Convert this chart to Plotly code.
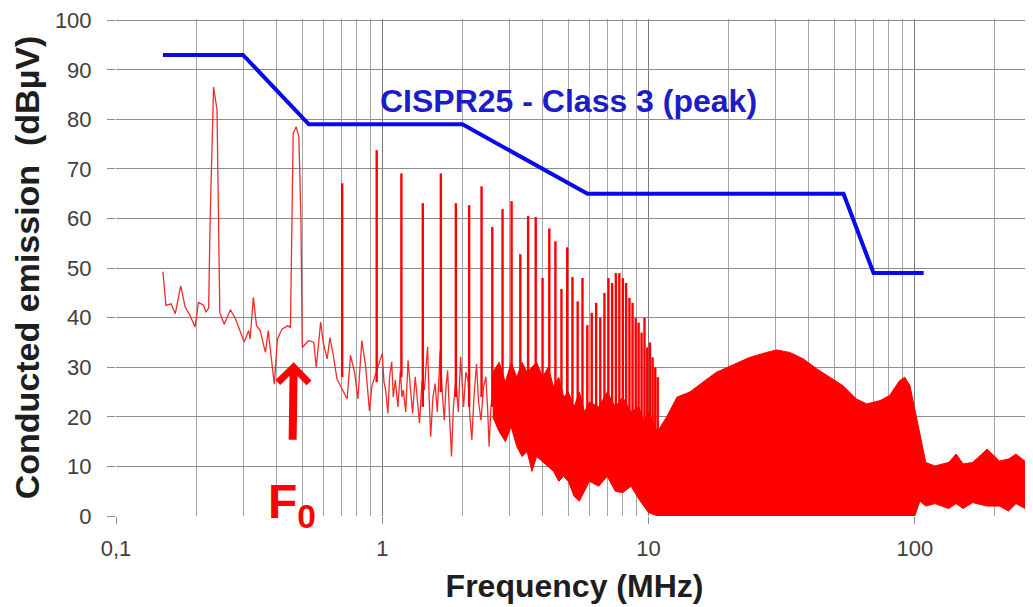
import numpy as np
import plotly.graph_objects as go

# CISPR25 class 3 (peak) limit line
limit_f = [0.15, 0.30, 0.53, 2.0, 5.9, 54, 70, 108]
limit_db = [93, 93, 79, 79, 65, 65, 49, 49]

# measured spectrum, low frequency part (MHz, dBuV)
low_f = [0.150, 0.154, 0.161, 0.167, 0.175, 0.182, 0.190, 0.198, 0.204, 0.213,
         0.218, 0.2228, 0.2258, 0.2325, 0.2395, 0.2432, 0.2454, 0.255, 0.269, 0.281,
         0.293, 0.303, 0.315, 0.319, 0.328, 0.337, 0.348, 0.364, 0.373, 0.393,
         0.404, 0.420, 0.442, 0.452, 0.4629, 0.4752, 0.4861, 0.4950, 0.5006, 0.529,
         0.553, 0.565, 0.587, 0.600, 0.621, 0.636, 0.655, 0.676, 0.738, 0.760,
         0.787, 0.810, 0.838, 0.866, 0.895, 0.915,
         1.0, 1.015, 1.03, 1.05, 1.065, 1.085, 1.10, 1.12, 1.145, 1.17,
         1.185, 1.2, 1.225, 1.25, 1.275, 1.3, 1.33, 1.355, 1.38, 1.41,
         1.44, 1.46, 1.48, 1.50, 1.52, 1.55, 1.58, 1.61, 1.63, 1.65,
         1.68, 1.71, 1.735, 1.76, 1.79, 1.82, 1.85, 1.89, 1.93, 1.97,
         2.0, 2.02, 2.06, 2.1, 2.135, 2.17, 2.21, 2.26, 2.3, 2.35,
         2.4, 2.45, 2.49, 2.52, 2.56, 2.6]
low_db = [49.3, 42.5, 42.8, 40.8, 46.4, 42.1, 40.4, 38.1, 43.1, 42.5,
          41.1, 42.0, 60.0, 86.5, 82.0, 60.0, 41.0, 38.7, 41.6, 39.8,
          37.4, 35.1, 37.4, 35.7, 44.1, 38.4, 37.4, 33.0, 37.4, 26.6,
          35.7, 37.7, 38.4, 38.0, 77.2, 78.5, 76.5, 60.0, 34.0, 35.4,
          35.0, 30.0, 39.1, 35.0, 31.7, 36.0, 32.4, 27.6, 23.6, 32.4,
          29.0, 23.6, 35.4, 30.3, 21.2, 26.3,
          32.8, 27.0, 25.4, 20.7, 28.0, 31.1, 24.0, 27.4, 22.0, 29.4,
          24.0, 25.4, 21.0, 31.4, 26.0, 20.7, 28.1, 23.0, 18.7, 27.0,
          25.4, 30.0, 34.1, 24.0, 16.0, 24.0, 26.7, 21.0, 28.0, 33.4,
          25.0, 19.3, 26.0, 29.4, 20.0, 12.0, 22.0, 27.4, 21.0, 32.1,
          26.0, 22.0, 29.0, 27.4, 20.0, 15.3, 24.0, 30.7, 23.0, 19.3,
          26.0, 28.1, 21.0, 14.0, 22.0, 25.0]

# harmonic peaks
harm_f = [0.707, 0.953, 1.18, 1.42, 1.66, 1.89, 2.12, 2.36, 2.59, 2.83,
          3.06, 3.30, 3.53, 3.77, 4.00, 4.24, 4.47, 4.71, 4.95, 5.18,
          5.42, 5.65, 5.89, 6.12, 6.36, 6.59, 6.83, 7.07, 7.30, 7.54,
          7.77, 8.01, 8.24, 8.48, 8.71, 8.95, 9.18, 9.42, 9.66, 9.89,
          10.13, 10.36, 10.6, 10.83]
harm_peak = [67.1, 73.8, 69.1, 63.1, 69.1, 63.1, 62.7, 66.5, 58.3, 61.9,
             63.5, 52.8, 60.5, 60.3, 48.0, 58.0, 55.4, 45.8, 54.2, 48.2,
             43.3, 48.0, 38.5, 41.0, 43.0, 40.0, 45.0, 48.0, 47.0, 49.0,
             49.0, 48.0, 47.0, 44.0, 43.0, 40.0, 39.0, 37.0, 40.0, 34.0,
             35.0, 32.0, 30.0, 28.0]
harm_base = [28, 27, 28, 22, 25, 24, 22, 24, 22, 22,
             20, 20, 18, 18, 16, 16, 14, 14, 12, 12,
             12, 10, 10, 10, 10, 10, 10, 10, 8, 8,
             8, 8, 8, 8, 6, 6, 6, 6, 5, 5,
             5, 5, 5, 5]

# dense noise band above 2.6 MHz
band_f = [2.6, 2.75, 2.9, 3.05, 3.2, 3.35, 3.5, 3.65, 3.8, 4.0,
          4.2, 4.4, 4.6, 4.8, 5.0, 5.25, 5.5, 5.75, 6.0, 6.5,
          7.0, 7.5, 8.0, 8.6, 9.2, 9.6, 10, 10.8, 11.7, 12.8,
          14.3, 16, 18, 20.8, 24, 27.8, 30.2, 33.9, 38.1, 42.8,
          47.8, 53.7, 60.4, 66, 74.2, 80.4, 87.7, 91.7, 95.9, 100,
          104.5, 110, 119, 134, 143, 152, 165, 187, 208, 225,
          240, 260, 278]
band_top = [29, 31, 27, 31, 28, 31, 29, 30, 31, 28,
            30, 26, 28, 24, 25, 22, 25, 21, 23, 22,
            25, 22, 24, 21, 22, 19, 21, 17, 20, 24,
            25, 27, 29, 30.5, 32, 33, 33.5, 33, 31.7, 29.7,
            28, 26.3, 23.6, 22.6, 23.3, 24.3, 27.3, 28, 26.3, 21.6,
            16.2, 10.8, 10.1, 10.8, 12.5, 10.5, 10.8, 13.5, 11.1, 11.5,
            12.5, 11, 12.1]
band_bottom = [20, 17, 15, 18, 14, 12, 13, 9, 12, 11,
               10, 9, 7, 8, 7, 4, 3, 5, 7, 6,
               8, 5, 4.7, 6, 3.4, 2, 0.7, 0, 0, 0,
               0, 0, 0, 0, 0, 0, 0, 0, 0, 0,
               0, 0, 0, 0, 0, 0, 0, 0, 0, 0,
               3, 2, 2.5, 1.5, 2.5, 1.5, 2.7, 2, 2, 1,
               2.5, 1.5, 3]

RED = '#ff0000'
BLUE = '#0a0ae6'
GRID = '#8c8c8c'

fig = go.Figure()

fig.add_trace(go.Scatter(
    x=band_f + band_f[::-1], y=band_top + band_bottom[::-1],
    fill='toself', fillcolor=RED, mode='lines',
    line=dict(color=RED, width=1), hoverinfo='skip'))

fig.add_trace(go.Scatter(x=low_f, y=low_db, mode='lines',
                         line=dict(color='#f52a2a', width=1.3)))

sx, sy = [], []
for f, p, b in zip(harm_f, harm_peak, harm_base):
    sx += [f, f, None]
    sy += [b, p, None]
fig.add_trace(go.Scatter(x=sx, y=sy, mode='lines',
                         line=dict(color=RED, width=2.4)))

fig.add_trace(go.Scatter(x=limit_f, y=limit_db, mode='lines',
                         line=dict(color=BLUE, width=4)))

minor_vals = []
for d in [0.1, 1, 10, 100]:
    for k in range(2, 10):
        minor_vals.append(k * d)

# page body adds an 8px offset, so the figure is 8px smaller
fig.update_layout(
    width=1025, height=599,
    margin=dict(l=108, r=0, t=11, b=91),
    paper_bgcolor='white', plot_bgcolor='white',
    showlegend=False,
    font=dict(family='Liberation Sans, Arial', color='#404040', size=22),
    xaxis=dict(type='log', range=[-1, np.log10(278)], automargin=False,
               tickvals=[0.1, 1, 10, 100], ticktext=['0,1', '1', '10', '100'],
               ticks='outside', ticklen=7, tickcolor=GRID,
               ticklabelstandoff=6, ticklabeloverflow='allow',
               showgrid=True, gridcolor='#7a7a7a', gridwidth=1.3,
               minor=dict(tickvals=minor_vals, showgrid=True,
                          gridcolor='#a6a6a6', gridwidth=1, ticks=''),
               zeroline=False, showline=False,
               title=dict(text='<b>Frequency (MHz)</b>',
                          font=dict(size=32, color='#1e1e1e'), standoff=14)),
    yaxis=dict(range=[0, 100.25], tickvals=list(range(0, 101, 10)), automargin=False,
               ticks='outside', ticklen=8, tickcolor=GRID,
               ticklabelstandoff=11, ticklabeloverflow='allow',
               showgrid=True, gridcolor=GRID, gridwidth=1.3,
               zeroline=False, showline=False,
               title=dict(text='<b>Conducted emission  (dBµV)</b>',
                          font=dict(size=34, color='#1e1e1e'), standoff=6)),
)

fig.add_annotation(x=np.log10(5.0), y=83.7, text='<b>CISPR25 - Class 3 (peak)</b>',
                   showarrow=False, font=dict(size=32, color='#1c1cc8'))

fig.add_annotation(x=np.log10(0.465), y=31, text='<b>F<sub>0</sub></b>',
                   showarrow=True, arrowhead=4, arrowwidth=8, arrowsize=0.75,
                   arrowcolor=RED, ax=-2, ay=143, standoff=0, startstandoff=34,
                   font=dict(size=48, color=RED))

fig.write_html("out.html")
